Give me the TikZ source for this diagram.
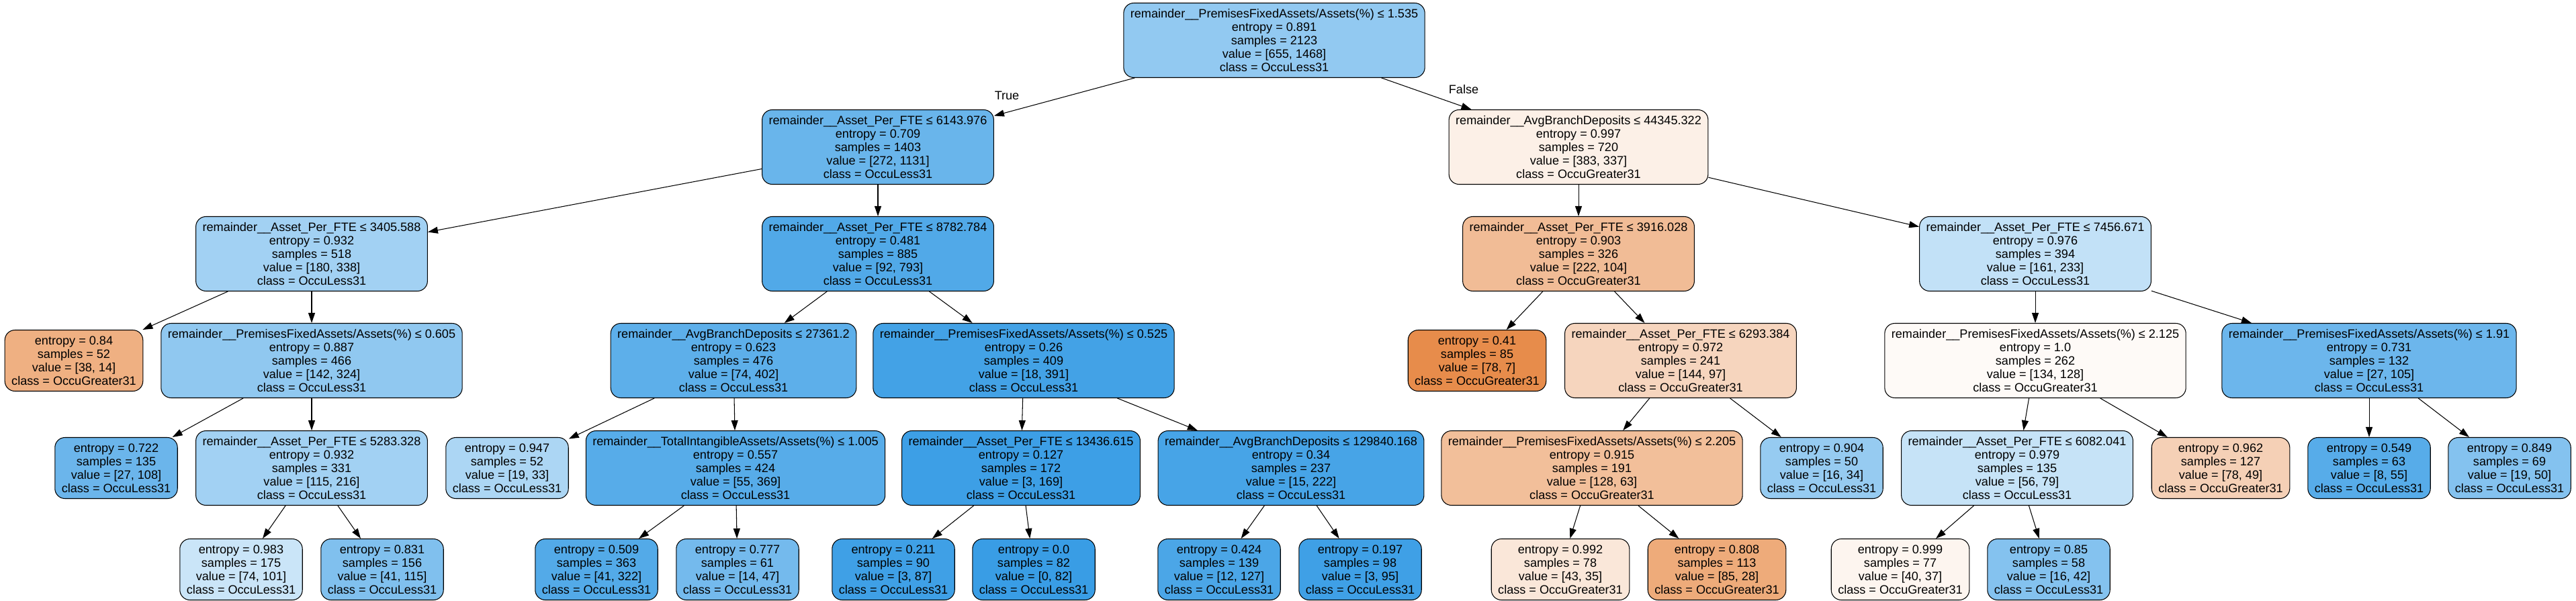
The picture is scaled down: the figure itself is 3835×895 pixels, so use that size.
\documentclass[tikz,border=0pt]{standalone}
\usepackage{fontspec}
\setmainfont{Liberation Sans}
\usetikzlibrary{arrows.meta}
\definecolor{lessblue}{RGB}{57,157,229}
\definecolor{greaterorange}{RGB}{229,129,57}

\begin{document}
\begin{tikzpicture}[
    x=0.02cm, y=-0.02cm,
    split/.style={rectangle, rounded corners=0.3cm, draw=black, line width=0.6pt, align=center, inner xsep=0.2cm, inner ysep=0pt, minimum height=2.22cm, font=\fontsize{10.3}{11.4}\selectfont},
    leaf/.style={split, minimum height=1.82cm},
    edge/.style={-{Triangle[length=0.3cm, width=0.2cm]}, line width=0.6pt},
    edgetext/.style={font=\fontsize{10.3}{11.4}\selectfont}
]

\fill[white] (0,0) rectangle (3835,895);
\useasboundingbox (0,0) rectangle (3835,895);

% Root
\node[split, fill=lessblue!55] (root) at (1897, 60) {remainder\_\_PremisesFixedAssets/Assets(\%) ≤ 1.535\\entropy = 0.891\\samples = 2123\\value = [655, 1468]\\class = OccuLess31};

% Depth 1
\node[split, fill=lessblue!76] (nL) at (1307, 219) {remainder\_\_Asset\_Per\_FTE ≤ 6143.976\\entropy = 0.709\\samples = 1403\\value = [272, 1131]\\class = OccuLess31};
\node[split, fill=greaterorange!12] (nR) at (2350, 219) {remainder\_\_AvgBranchDeposits ≤ 44345.322\\entropy = 0.997\\samples = 720\\value = [383, 337]\\class = OccuGreater31};

% Depth 2
\node[split, fill=lessblue!47] (nLL) at (464, 378) {remainder\_\_Asset\_Per\_FTE ≤ 3405.588\\entropy = 0.932\\samples = 518\\value = [180, 338]\\class = OccuLess31};
\node[split, fill=lessblue!88] (nLR) at (1307, 378) {remainder\_\_Asset\_Per\_FTE ≤ 8782.784\\entropy = 0.481\\samples = 885\\value = [92, 793]\\class = OccuLess31};
\node[split, fill=greaterorange!53] (nRL) at (2350, 378) {remainder\_\_Asset\_Per\_FTE ≤ 3916.028\\entropy = 0.903\\samples = 326\\value = [222, 104]\\class = OccuGreater31};
\node[split, fill=lessblue!31] (nRR) at (3030, 378) {remainder\_\_Asset\_Per\_FTE ≤ 7456.671\\entropy = 0.976\\samples = 394\\value = [161, 233]\\class = OccuLess31};

% Depth 3
\node[leaf, fill=greaterorange!63] (nLLL) at (110, 537) {entropy = 0.84\\samples = 52\\value = [38, 14]\\class = OccuGreater31};
\node[split, fill=lessblue!56] (nLLR) at (464, 537) {remainder\_\_PremisesFixedAssets/Assets(\%) ≤ 0.605\\entropy = 0.887\\samples = 466\\value = [142, 324]\\class = OccuLess31};
\node[split, fill=lessblue!82] (nLRL) at (1092, 537) {remainder\_\_AvgBranchDeposits ≤ 27361.2\\entropy = 0.623\\samples = 476\\value = [74, 402]\\class = OccuLess31};
\node[split, fill=lessblue!95] (nLRR) at (1524, 537) {remainder\_\_PremisesFixedAssets/Assets(\%) ≤ 0.525\\entropy = 0.26\\samples = 409\\value = [18, 391]\\class = OccuLess31};
\node[leaf, fill=greaterorange!91] (nRLL) at (2199, 537) {entropy = 0.41\\samples = 85\\value = [78, 7]\\class = OccuGreater31};
\node[split, fill=greaterorange!33] (nRLR) at (2502, 537) {remainder\_\_Asset\_Per\_FTE ≤ 6293.384\\entropy = 0.972\\samples = 241\\value = [144, 97]\\class = OccuGreater31};
\node[split, fill=greaterorange!4] (nRRL) at (3030, 537) {remainder\_\_PremisesFixedAssets/Assets(\%) ≤ 2.125\\entropy = 1.0\\samples = 262\\value = [134, 128]\\class = OccuGreater31};
\node[split, fill=lessblue!74] (nRRR) at (3527, 537) {remainder\_\_PremisesFixedAssets/Assets(\%) ≤ 1.91\\entropy = 0.731\\samples = 132\\value = [27, 105]\\class = OccuLess31};

% Depth 4
\node[leaf, fill=lessblue!75] (nLLRL) at (173, 697) {entropy = 0.722\\samples = 135\\value = [27, 108]\\class = OccuLess31};
\node[split, fill=lessblue!47] (nLLRR) at (464, 697) {remainder\_\_Asset\_Per\_FTE ≤ 5283.328\\entropy = 0.932\\samples = 331\\value = [115, 216]\\class = OccuLess31};
\node[leaf, fill=lessblue!42] (nLRLL) at (755, 697) {entropy = 0.947\\samples = 52\\value = [19, 33]\\class = OccuLess31};
\node[split, fill=lessblue!85] (nLRLR) at (1095, 697) {remainder\_\_TotalIntangibleAssets/Assets(\%) ≤ 1.005\\entropy = 0.557\\samples = 424\\value = [55, 369]\\class = OccuLess31};
\node[split, fill=lessblue!98] (nLRRL) at (1520, 697) {remainder\_\_Asset\_Per\_FTE ≤ 13436.615\\entropy = 0.127\\samples = 172\\value = [3, 169]\\class = OccuLess31};
\node[split, fill=lessblue!93] (nLRRR) at (1922, 697) {remainder\_\_AvgBranchDeposits ≤ 129840.168\\entropy = 0.34\\samples = 237\\value = [15, 222]\\class = OccuLess31};
\node[split, fill=greaterorange!51] (nRLRL) at (2370, 697) {remainder\_\_PremisesFixedAssets/Assets(\%) ≤ 2.205\\entropy = 0.915\\samples = 191\\value = [128, 63]\\class = OccuGreater31};
\node[leaf, fill=lessblue!53] (nRLRR) at (2712, 697) {entropy = 0.904\\samples = 50\\value = [16, 34]\\class = OccuLess31};
\node[split, fill=lessblue!29] (nRRLL) at (3003, 697) {remainder\_\_Asset\_Per\_FTE ≤ 6082.041\\entropy = 0.979\\samples = 135\\value = [56, 79]\\class = OccuLess31};
\node[leaf, fill=greaterorange!37] (nRRLR) at (3306, 697) {entropy = 0.962\\samples = 127\\value = [78, 49]\\class = OccuGreater31};
\node[leaf, fill=lessblue!85] (nRRRL) at (3527, 697) {entropy = 0.549\\samples = 63\\value = [8, 55]\\class = OccuLess31};
\node[leaf, fill=lessblue!62] (nRRRR) at (3736, 697) {entropy = 0.849\\samples = 69\\value = [19, 50]\\class = OccuLess31};

% Depth 5
\node[leaf, fill=lessblue!27] (nLLRRL) at (359, 848) {entropy = 0.983\\samples = 175\\value = [74, 101]\\class = OccuLess31};
\node[leaf, fill=lessblue!64] (nLLRRR) at (569, 848) {entropy = 0.831\\samples = 156\\value = [41, 115]\\class = OccuLess31};
\node[leaf, fill=lessblue!87] (nLRLRL) at (888, 848) {entropy = 0.509\\samples = 363\\value = [41, 322]\\class = OccuLess31};
\node[leaf, fill=lessblue!70] (nLRLRR) at (1098, 848) {entropy = 0.777\\samples = 61\\value = [14, 47]\\class = OccuLess31};
\node[leaf, fill=lessblue!97] (nLRRLL) at (1330, 848) {entropy = 0.211\\samples = 90\\value = [3, 87]\\class = OccuLess31};
\node[leaf, fill=lessblue] (nLRRLR) at (1539, 848) {entropy = 0.0\\samples = 82\\value = [0, 82]\\class = OccuLess31};
\node[leaf, fill=lessblue!91] (nLRRRL) at (1815, 848) {entropy = 0.424\\samples = 139\\value = [12, 127]\\class = OccuLess31};
\node[leaf, fill=lessblue!97] (nLRRRR) at (2025, 848) {entropy = 0.197\\samples = 98\\value = [3, 95]\\class = OccuLess31};
\node[leaf, fill=greaterorange!19] (nRLRLL) at (2323, 848) {entropy = 0.992\\samples = 78\\value = [43, 35]\\class = OccuGreater31};
\node[leaf, fill=greaterorange!67] (nRLRLR) at (2556, 848) {entropy = 0.808\\samples = 113\\value = [85, 28]\\class = OccuGreater31};
\node[leaf, fill=greaterorange!8] (nRRLLL) at (2829, 848) {entropy = 0.999\\samples = 77\\value = [40, 37]\\class = OccuGreater31};
\node[leaf, fill=lessblue!62] (nRRLLR) at (3050, 848) {entropy = 0.85\\samples = 58\\value = [16, 42]\\class = OccuLess31};

% Edges
\foreach \a/\b in {root/nL, root/nR,
    nL/nLL, nL/nLR, nR/nRL, nR/nRR,
    nLL/nLLL, nLL/nLLR, nLR/nLRL, nLR/nLRR, nRL/nRLL, nRL/nRLR, nRR/nRRL, nRR/nRRR,
    nLLR/nLLRL, nLLR/nLLRR, nLRL/nLRLL, nLRL/nLRLR, nLRR/nLRRL, nLRR/nLRRR,
    nRLR/nRLRL, nRLR/nRLRR, nRRL/nRRLL, nRRL/nRRLR, nRRR/nRRRL, nRRR/nRRRR,
    nLLRR/nLLRRL, nLLRR/nLLRRR, nLRLR/nLRLRL, nLRLR/nLRLRR, nLRRL/nLRRLL, nLRRL/nLRRLR,
    nLRRR/nLRRRL, nLRRR/nLRRRR, nRLRL/nRLRLL, nRLRL/nRLRLR, nRRLL/nRRLLL, nRRLL/nRRLLR}
    \draw[edge] (\a) -- (\b);

% Edge labels
\node[edgetext] (truetext) at (1499, 142) {True};
\node[edgetext] (falsetext) at (2179, 133) {False};

\end{tikzpicture}
\end{document}
